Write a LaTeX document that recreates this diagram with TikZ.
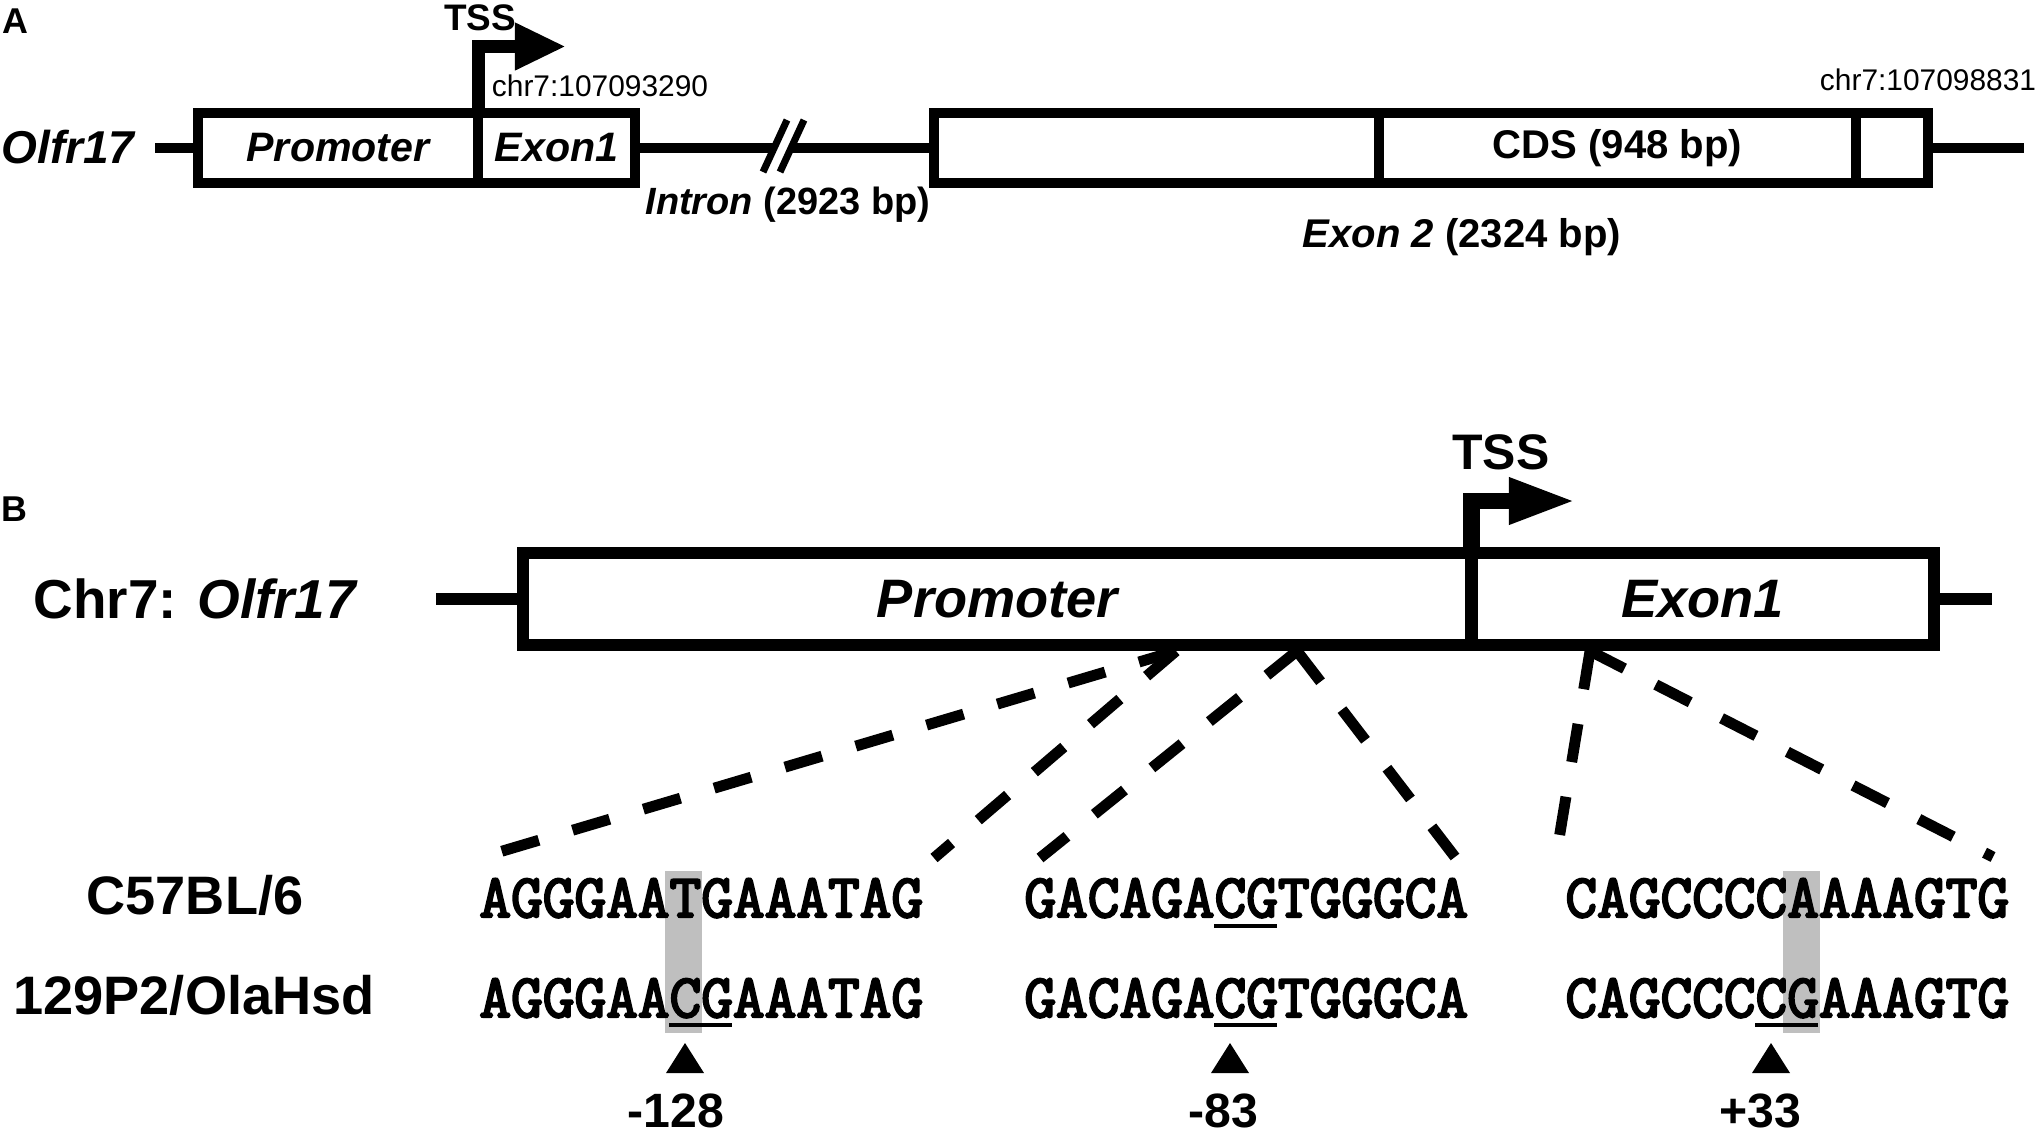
\documentclass[tikz,border=0pt]{standalone}
\usepackage{fontspec}
\setmainfont{Liberation Sans}
\newfontfamily\seqfont{Latin Modern Mono}[FakeBold=3.6]
\usetikzlibrary{arrows.meta}

\begin{document}
\begin{tikzpicture}[x=0.01cm,y=-0.01cm,thick,
		every node/.style={font=\bfseries},
		panel/.style={font=\fontsize{10.2}{12}\selectfont\bfseries},
		gene/.style={draw,line width=3pt,inner sep=0,outer sep=0,minimum height=0.7cm,font=\fontsize{11.7}{14}\selectfont\bfseries\itshape},
		geneb/.style={draw,line width=3.4pt,inner sep=0,outer sep=0,minimum height=0.92cm,font=\fontsize{15.4}{18}\selectfont\bfseries\itshape},
		strand/.style={line width=2.85pt},
		strandb/.style={line width=3.2pt},
		tss a/.style={line width=3.7pt,miter limit=4,-{Triangle[length=0.51cm,width=0.44cm]}},
		tss b/.style={line width=4.8pt,miter limit=4,-{Triangle[length=0.68cm,width=0.42cm]}},
		coord/.style={font=\fontsize{8.5}{10}\selectfont},
		zoomline/.style={line width=3.1pt,dash pattern=on 11pt off 10pt},
		seq/.style={anchor=base west,inner sep=0,font=\fontsize{17.5}{18}\selectfont\seqfont},
		strain/.style={font=\fontsize{15.4}{18}\selectfont\bfseries},
		snp/.style={fill=black!25},
		cg/.style={line width=1.1pt},
		site/.style={font=\fontsize{13.7}{16}\selectfont\bfseries}]
	\useasboundingbox (0,0) rectangle (2037,1133);

	\node [panel] (lab_a) at (15,21) {A};
	\node [font=\fontsize{13.1}{16}\selectfont\bfseries\itshape] (olfr_a) at (68,147) {Olfr17};
	\coordinate (a_start) at (155,148);
	\coordinate (a_end) at (2024,148);
	\node [gene,minimum width=2.8cm] (prom_a) at (338,148) {Promoter};
	\node [gene,minimum width=1.57cm] (exon1_a) at (556.5,148) {Exon1};
	\node [gene,minimum width=4.45cm] (utr5) at (1156.5,148) {};
	\node [gene,minimum width=4.77cm,font=\fontsize{11.4}{14}\selectfont\bfseries] (cds) at (1617.5,148) {CDS (948 bp)};
	\node [gene,minimum width=0.72cm] (utr3) at (1892,148) {};
	\draw [strand] (a_start) -- (prom_a.west);
	\draw [strand] (exon1_a.east) -- (utr5.west);
	\draw [strand] (utr3.east) -- (a_end);
	\draw [white,line width=3.4pt] (771.5,172) -- (795.5,120);
	\draw [line width=2pt] (763,172) -- (787,120);
	\draw [line width=2pt] (780,172) -- (804,120);
	\node [font=\fontsize{10.5}{12}\selectfont\bfseries] (tss_a) at (480,18) {TSS};
	\draw [tss a] (prom_a.north east) |- (566,46.5);
	\node [coord] (start_a) at (600,86) {chr7:107093290};
	\node [coord] (end_a) at (1928,80) {chr7:107098831};
	\node [font=\fontsize{10.8}{13}\selectfont\bfseries] (intron) at (788,205) {\textit{Intron} (2923 bp)};
	\node [font=\fontsize{11.4}{14}\selectfont\bfseries] (exon2) at (1462,237) {\textit{Exon 2} (2324 bp)};

	\node [panel] (lab_b) at (14,509) {B};
	\node [font=\fontsize{15.6}{18}\selectfont\bfseries] (olfr_b) at (196,599) {Chr7: \textit{Olfr17}};
	\coordinate (b_start) at (436,599);
	\coordinate (b_end) at (1992,599);
	\node [geneb,minimum width=9.485cm] (prom_b) at (997.25,599) {Promoter};
	\node [geneb,minimum width=4.625cm] (exon1_b) at (1702.75,599) {Exon1};
	\draw [strandb] (b_start) -- (prom_b.west);
	\draw [strandb] (exon1_b.east) -- (b_end);
	\node [font=\fontsize{14.2}{17}\selectfont\bfseries] (tss_b) at (1501,452) {TSS};
	\draw [tss b] (exon1_b.north west) |- (1577,501);

	\coordinate (cut1) at (1176,651);
	\coordinate (cut2) at (1297,651);
	\coordinate (cut3) at (1590,651);
	\coordinate (seq1_l) at (479,858);
	\coordinate (seq1_r) at (934,858);
	\coordinate (seq2_l) at (1040,858);
	\coordinate (seq2_r) at (1455,857);
	\coordinate (seq3_l) at (1556,857);
	\coordinate (seq3_r) at (1993,857);
	\draw [zoomline] (cut1) -- (seq1_l);
	\draw [zoomline] (cut1) -- (seq1_r);
	\draw [zoomline] (cut2) -- (seq2_l);
	\draw [zoomline] (cut2) -- (seq2_r);
	\draw [zoomline] (cut3) -- (seq3_l);
	\draw [zoomline] (cut3) -- (seq3_r);

	\node [strain] (b6) at (195,895) {C57BL/6};
	\node [strain] (ola) at (194,995) {129P2/OlaHsd};

	\fill [snp] (665,871) rectangle (702,1033);
	\fill [snp] (1783,871) rectangle (1820,1033);
	\node [seq] (seq1_b6) at (478,917) {AGGGAATGAAATAG};
	\node [seq] (seq1_ola) at (478,1017) {AGGGAACGAAATAG};
	\node [seq] (seq2_b6) at (1023,917) {GACAGACGTGGGCA};
	\node [seq] (seq2_ola) at (1023,1017) {GACAGACGTGGGCA};
	\node [seq] (seq3_b6) at (1564,917) {CAGCCCCAAAAGTG};
	\node [seq] (seq3_ola) at (1564,1017) {CAGCCCCGAAAGTG};
	\draw [cg] (669,1025) -- (732,1025);
	\draw [cg] (1214,926) -- (1277,926);
	\draw [cg] (1214,1025) -- (1277,1025);
	\draw [cg] (1755,1025) -- (1818,1025);

	\fill (685,1043) -- (704,1073) -- (666,1073) -- cycle;
	\fill (1230,1043) -- (1249,1073) -- (1211,1073) -- cycle;
	\fill (1771,1043) -- (1790,1073) -- (1752,1073) -- cycle;
	\node [site] (site1) at (676,1111) {-128};
	\node [site] (site2) at (1223,1111) {-83};
	\node [site] (site3) at (1760,1111) {+33};
\end{tikzpicture}
\end{document}
